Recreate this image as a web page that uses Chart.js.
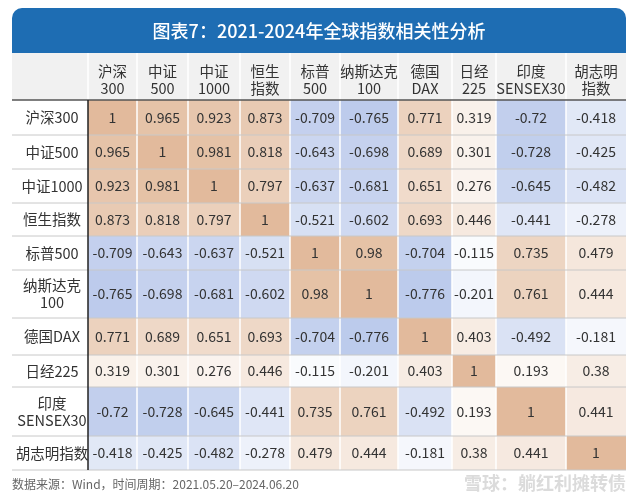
<!DOCTYPE html>
<html><head><meta charset="utf-8">
<script src="https://cdn.jsdelivr.net/npm/chart.js@4"></script>
<style>html,body{margin:0;padding:0;background:#fff}#c{display:block}</style>
</head><body>
<canvas id="c" width="638" height="497"></canvas>
<script>
// ---- data ----
const colLabels = [["沪深","300"],["中证","500"],["中证","1000"],["恒生","指数"],["标普","500"],["纳斯达克","100"],["德国","DAX"],["日经","225"],["印度","SENSEX30"],["胡志明","指数"]];
const rowLabels = [["沪深300"],["中证500"],["中证1000"],["恒生指数"],["标普500"],["纳斯达克","100"],["德国DAX"],["日经225"],["印度","SENSEX30"],["胡志明指数"]];
const values = [
  ["1","0.965","0.923","0.873","-0.709","-0.765","0.771","0.319","-0.72","-0.418"],
  ["0.965","1","0.981","0.818","-0.643","-0.698","0.689","0.301","-0.728","-0.425"],
  ["0.923","0.981","1","0.797","-0.637","-0.681","0.651","0.276","-0.645","-0.482"],
  ["0.873","0.818","0.797","1","-0.521","-0.602","0.693","0.446","-0.441","-0.278"],
  ["-0.709","-0.643","-0.637","-0.521","1","0.98","-0.704","-0.115","0.735","0.479"],
  ["-0.765","-0.698","-0.681","-0.602","0.98","1","-0.776","-0.201","0.761","0.444"],
  ["0.771","0.689","0.651","0.693","-0.704","-0.776","1","0.403","-0.492","-0.181"],
  ["0.319","0.301","0.276","0.446","-0.115","-0.201","0.403","1","0.193","0.38"],
  ["-0.72","-0.728","-0.645","-0.441","0.735","0.761","-0.492","0.193","1","0.441"],
  ["-0.418","-0.425","-0.482","-0.278","0.479","0.444","-0.181","0.38","0.441","1"]
];
const title = "图表7：2021-2024年全球指数相关性分析";
const footer = "数据来源：Wind，时间周期：2021.05.20–2024.06.20";
const watermark = "雪球：躺红利摊转债";

// column / row sizes in scale units
const colW = [49,51,52,50,50,58,54,44,70,60];
const rowH = [35,34,34,33,34,48,37,32,49,34];
const edges = a => a.reduce((acc, w) => (acc.push(acc[acc.length-1] + w), acc), [0]);
const xE = edges(colW), yE = edges(rowH);

const FONT = '"Noto Sans CJK SC","Noto Sans",sans-serif';

function cellColor(s, r, c) {
  const v = parseFloat(s);
  if (r === c) return "rgb(226,186,156)";
  const t = Math.min(1, Math.abs(v));
  const k = Math.pow(t, 1.3);
  const target = v >= 0 ? [228,192,164] : [162,182,228];
  const mix = target.map(ch => Math.round(255 + (ch - 255) * k));
  return `rgb(${mix.join(",")})`;
}

const points = [];
values.forEach((row, r) => row.forEach((v, c) => {
  points.push({ x: (xE[c] + xE[c+1]) / 2, y: (yE[r] + yE[r+1]) / 2, r, c, v });
}));

const tablePlugin = {
  id: "table",
  beforeDatasetsDraw(chart) {
    const { ctx, scales: { x, y }, chartArea: ca } = chart;
    const px = v => x.getPixelForValue(v), py = v => y.getPixelForValue(v);
    ctx.save();
    // title bar
    ctx.fillStyle = "#1e6db3";
    ctx.beginPath();
    ctx.roundRect(12, 8, ca.right - 12, 45, [10, 10, 0, 0]);
    ctx.fill();
    ctx.fillStyle = "#fff";
    ctx.font = "500 18px " + FONT;
    ctx.textAlign = "center"; ctx.textBaseline = "middle";
    ctx.fillText(title, (12 + ca.right) / 2, 31);
    // header row
    ctx.fillStyle = "#f1f1f1";
    ctx.fillRect(12, 53, ca.right - 12, ca.top - 53);
    ctx.font = "14.5px " + FONT;
    ctx.fillStyle = "#333";
    colLabels.forEach((lab, c) => {
      const cx = (px(xE[c]) + px(xE[c+1])) / 2;
      lab.forEach((t, i) => ctx.fillText(t, cx, 71 + i * 17));
    });
    // cells
    ctx.font = "14px " + FONT;
    points.forEach(p => {
      const x0 = px(xE[p.c]), x1 = px(xE[p.c+1]);
      const y0 = py(yE[p.r]), y1 = py(yE[p.r+1]);
      ctx.fillStyle = cellColor(p.v, p.r, p.c);
      ctx.fillRect(x0, y0, x1 - x0, y1 - y0);
      ctx.fillStyle = "#333";
      ctx.fillText(p.v, px(p.x), py(p.y));
    });
    // column separators
    ctx.strokeStyle = "#fff"; ctx.lineWidth = 1.5;
    xE.slice(1, -1).forEach(e => {
      ctx.beginPath(); ctx.moveTo(px(e), 53); ctx.lineTo(px(e), ca.bottom); ctx.stroke();
    });
    ctx.beginPath(); ctx.moveTo(ca.left, 53); ctx.lineTo(ca.left, ca.top); ctx.stroke();
    // row labels and row lines
    rowLabels.forEach((lab, r) => {
      const y0 = py(yE[r]), y1 = py(yE[r+1]);
      const cy = (y0 + y1) / 2 - (lab.length - 1) * 8.5;
      ctx.fillStyle = "#333"; ctx.font = "14.5px " + FONT;
      lab.forEach((t, i) => ctx.fillText(t, (12 + ca.left) / 2 + 2, cy + i * 17));
    });
    ctx.strokeStyle = "#c8c8c8"; ctx.lineWidth = 1;
    yE.slice(1).forEach(e => {
      ctx.beginPath(); ctx.moveTo(12, py(e)); ctx.lineTo(ca.right, py(e)); ctx.stroke();
    });
    ctx.strokeStyle = "#555"; ctx.lineWidth = 1.5;
    ctx.beginPath(); ctx.moveTo(12, ca.top); ctx.lineTo(ca.right, ca.top); ctx.stroke();
    ctx.strokeStyle = "#222"; ctx.lineWidth = 1.5;
    ctx.beginPath(); ctx.moveTo(ca.left, ca.top); ctx.lineTo(ca.left, ca.bottom); ctx.stroke();
    // footer
    ctx.textAlign = "left";
    ctx.fillStyle = "#666"; ctx.font = "12px " + FONT;
    ctx.fillText(footer, 12, 484);
    ctx.textAlign = "right";
    ctx.fillStyle = "rgba(215,215,215,0.9)"; ctx.font = "bold 18px " + FONT;
    ctx.fillText(watermark, 626, 483);
    ctx.restore();
  }
};

new Chart(document.getElementById("c"), {
  type: "scatter",
  data: { datasets: [{ data: points, pointRadius: 0, pointHoverRadius: 0 }] },
  options: {
    responsive: false, animation: false,
    layout: { padding: { left: 88, right: 12, top: 100, bottom: 27 } },
    plugins: { legend: { display: false }, tooltip: { enabled: false } },
    scales: {
      x: { type: "linear", display: false, min: 0, max: xE[xE.length-1] },
      y: { type: "linear", display: false, min: 0, max: yE[yE.length-1], reverse: true }
    }
  },
  plugins: [tablePlugin]
});
</script>
</body></html>
